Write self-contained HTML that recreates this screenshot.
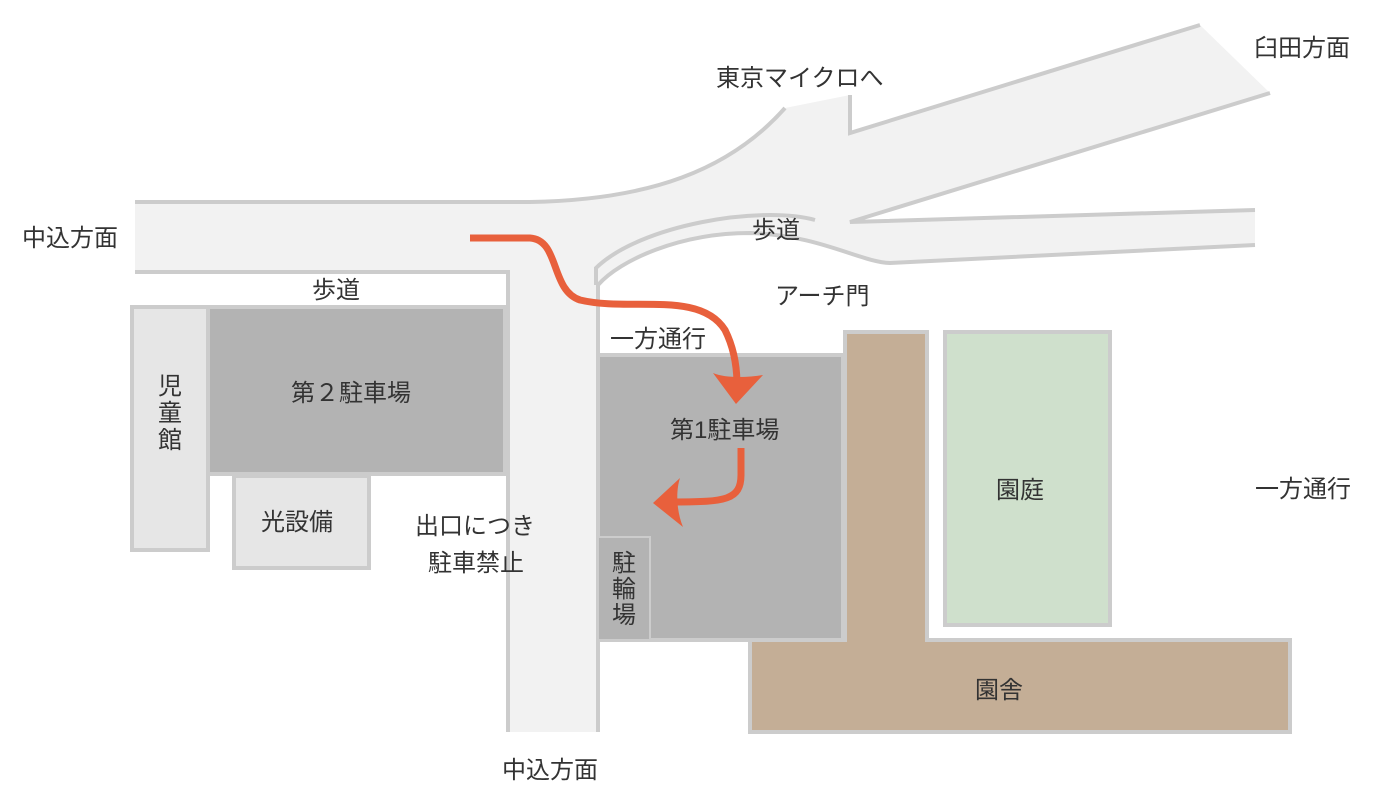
<!DOCTYPE html>
<html><head><meta charset="utf-8"><style>
html,body{margin:0;padding:0;background:#fff;}
svg{display:block}
text{font-family:"Liberation Sans","Noto Sans CJK JP",sans-serif;font-size:24px;fill:#333;}
</style></head><body>
<svg width="1382" height="807" viewBox="0 0 1382 807" xmlns="http://www.w3.org/2000/svg">
<path d="M135,202 L530,202 C650,200 730,170 785,108 L850,95 L850,133 L1200,25 L1270,93 L850,222 L1255,210 L1255,245 L890,263 C860,262 820,235 750,233 C680,233 620,260 598,285 L598,732 L508,732 L508,272 L135,272 Z" fill="#f2f2f2"/>
<g fill="none" stroke="#cccccc" stroke-width="4">
<path d="M135,202 L530,202 C650,200 730,170 785,108"/>
<path d="M850,95 L850,133 L1200,25"/>
<path d="M1270,93 L850,222 L1255,210"/>
<path d="M1255,245 L890,263 C860,262 820,235 750,233 C680,233 620,260 598,285 L598,732"/>
<path d="M596,285 L596,268 C640,225 760,205 815,220"/>
<path d="M508,732 L508,272 L135,272"/>
</g>
<g stroke="#cccccc" stroke-width="4">
<rect x="132" y="307" width="76" height="243" fill="#e6e6e6"/>
<rect x="208" y="307" width="297" height="167" fill="#b3b3b3"/>
<rect x="234" y="476" width="135" height="92" fill="#e6e6e6"/>
<rect x="598" y="355" width="245" height="285" fill="#b3b3b3"/>
<rect x="598" y="537" width="52" height="103" fill="#b3b3b3" stroke-width="2"/>
<path d="M845,332 L927,332 L927,640 L1290,640 L1290,732 L750,732 L750,640 L845,640 Z" fill="#c4ae96"/>
<rect x="945" y="332" width="165" height="293" fill="#cfe0cc"/>
</g>
<g fill="none" stroke="#e8603c" stroke-width="7">
<path d="M470,238 L530,238 C560,240 550,290 580,300 C630,312 700,290 725,330 C735,350 737,370 737,385"/>
<path d="M741,448 L741,475 C741,500 725,502 675,502"/>
</g>
<g fill="#e8603c">
<path d="M736,404 L713,373 C725,378 745,378 763,375 Z"/>
<path d="M653,503 L680,478 C676,490 676,510 683,527 Z"/>
</g>
<text x="22" y="246">中込方面</text>
<text x="312" y="298">歩道</text>
<text x="716" y="86">東京マイクロへ</text>
<text x="1254" y="56">臼田方面</text>
<text x="752" y="238">歩道</text>
<text x="775" y="304">アーチ門</text>
<text x="610" y="347">一方通行</text>
<text x="291" y="401">第２駐車場</text>
<text x="670" y="438">第1駐車場</text>
<text x="1255" y="497">一方通行</text>
<text x="996" y="498">園庭</text>
<text x="261" y="530">光設備</text>
<text x="415" y="534">出口につき</text>
<text x="428" y="571">駐車禁止</text>
<text x="975" y="698">園舎</text>
<text x="502" y="778">中込方面</text>
<text x="158" y="394">児</text>
<text x="158" y="421">童</text>
<text x="158" y="448">館</text>
<text x="612" y="571">駐</text>
<text x="612" y="597">輪</text>
<text x="612" y="623">場</text>
</svg>
</body></html>
